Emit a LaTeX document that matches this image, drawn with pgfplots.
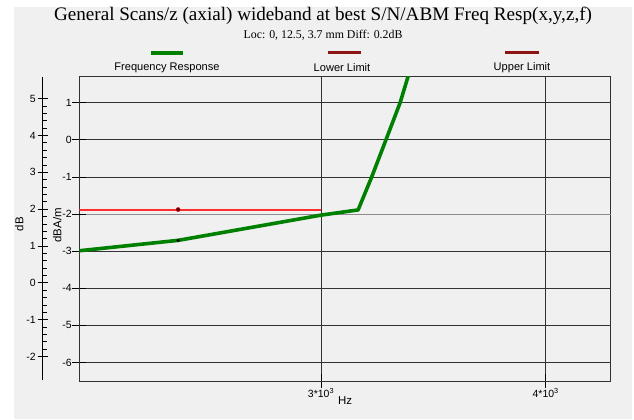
\documentclass[border=0pt]{standalone}
\usepackage{pgfplots}
\pgfplotsset{compat=1.18}
\usepackage{fontspec}
\setmainfont{Liberation Sans}
\newfontfamily\seriffont{Liberation Serif}
\definecolor{bgc}{RGB}{240,240,240}
\definecolor{fr}{RGB}{0,128,0}
\definecolor{lim}{RGB}{139,20,20}
\definecolor{redline}{RGB}{255,45,45}
\definecolor{gridc}{RGB}{50,50,50}
\begin{document}
\begin{tikzpicture}[x=1bp,y=1bp]
\fill[white] (0,0) rectangle (634,419);
\fill[bgc] (14,0) rectangle (631.7,411.7);
\node[font=\seriffont\fontsize{19.2}{22}\selectfont] at (323,403) {General Scans/z (axial) wideband at best S/N/ABM Freq Resp(x,y,z,f)};
\node[font=\seriffont\fontsize{11.9}{14}\selectfont] at (323,383.5) {Loc: 0, 12.5, 3.7 mm Diff: 0.2dB};
% legend
\fill[fr] (151,364.3) rectangle (183.3,368.3);
\fill[lim] (328,364.8) rectangle (360.7,367.8);
\fill[lim] (505,364.8) rectangle (539,367.8);
\node[font=\fontsize{11.1}{13}\selectfont] at (167,351) {Frequency Response};
\node[font=\fontsize{11.1}{13}\selectfont] at (342,351) {Lower Limit};
\node[font=\fontsize{11.1}{13}\selectfont] at (522,351) {Upper Limit};
% outer dB axis
\begin{axis}[
  at={(42.7bp,39bp)}, anchor=south west, scale only axis,
  width=1bp, height=303.3bp,
  xmin=0, xmax=1, ymin=-2.636, ymax=5.595,
  hide x axis, axis y line*=left,
  ytick={-2,-1,0,1,2,3,4,5}, minor y tick num=4,
  tick align=center, major tick length=10bp, minor tick length=4bp,
  every minor tick/.append style={xshift=2bp},
  tick style={black, line width=0.8bp},
  axis line style={black, line width=0.8bp},
  /pgf/number format/assume math mode=true,
  yticklabel style={font=\fontsize{10.5}{12}\selectfont, xshift=1.5bp},
  ylabel={dB}, ylabel style={font=\fontsize{11.5}{13}\selectfont,
    at={([xshift=-23.5bp,yshift=4bp]axis description cs:0,0.5)}, anchor=center},
]
\end{axis}
% inner axis
\begin{axis}[
  at={(79.3bp,38bp)}, anchor=south west, scale only axis,
  width=531.4bp, height=304.3bp,
  xmin=1924, xmax=4289.3, ymin=-6.50, ymax=1.70,
  xtick={3000,4000}, xticklabels={3*10\textsuperscript{3},4*10\textsuperscript{3}},
  ytick={-6,-5,-4,-3,-1,0,1},
  extra y ticks={-2},
  extra y tick style={grid=major, major grid style={black!45, line width=0.8bp}},
  minor y tick num=4,
  xtick pos=bottom, ytick pos=left,
  tick align=center,
  major tick length=14bp, minor tick length=4bp,
  every minor tick/.append style={xshift=2bp},
  tick style={black, line width=0.8bp},
  grid=major, major grid style={gridc, line width=0.8bp},
  axis line style={gridc, line width=0.9bp},
  scaled x ticks=false,
  /pgf/number format/assume math mode=true,
  tick label style={font=\fontsize{10.5}{12}\selectfont},
  yticklabel style={xshift=3bp},
  xticklabel style={yshift=3bp},
  xlabel={Hz}, xlabel style={font=\fontsize{11.5}{13}\selectfont, yshift=8bp},
  ylabel={dBA/m}, ylabel style={font=\fontsize{11.5}{13}\selectfont,
    at={([yshift=3.5bp]axis description cs:-0.0414,0.5)}, anchor=center},
  clip=true,
]
\addplot[draw=redline, line width=2bp] coordinates {(1924,-1.88) (3000,-1.88)};
\addplot[fr, line width=3.6bp, line join=round] coordinates {
 (1924,-2.99) (2364,-2.71) (3000,-2.03) (3165,-1.89) (3225.6,-1.0)
 (3289,0.0) (3352,1.0) (3387,1.70) (3420,2.6)};
\addplot[only marks, mark=*, mark size=1.4bp, black] coordinates {(2364,-2.71)};
\addplot[only marks, mark=*, mark size=2.1bp, draw=red, fill=black!70!red] coordinates {(2364,-1.88)};
\end{axis}
\end{tikzpicture}
\end{document}
